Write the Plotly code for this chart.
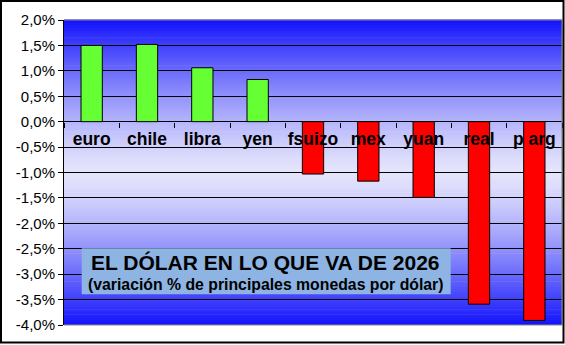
import plotly.graph_objects as go

categories = ["euro", "chile", "libra", "yen", "fsuizo", "mex", "yuan", "real", "p arg"]
values = [1.50, 1.52, 1.06, 0.83, -1.03, -1.17, -1.49, -3.59, -3.91]
bar_colors = ["#66FF33" if v >= 0 else "#FF0000" for v in values]
tick_vals = [2.0, 1.5, 1.0, 0.5, 0.0, -0.5, -1.0, -1.5, -2.0, -2.5, -3.0, -3.5, -4.0]
tick_text = [f"{v:.1f}%".replace(".", ",") for v in tick_vals]
title_line1 = "EL DÓLAR EN LO QUE VA DE 2026"
title_line2 = "(variación % de principales monedas por dólar)"

W, H = 565, 345
L, R, T, B = 64, 3, 20, 20
PW, PH = W - L - R, H - T - B
FONT = "Liberation Sans, Arial, sans-serif"


def px(x):
    return (x - L) / PW


def py(y):
    return (H - B - y) / PH


fig = go.Figure()
fig.add_trace(go.Bar(
    x=categories, y=values,
    marker=dict(color=bar_colors, line=dict(color="black", width=1)),
    hoverinfo="skip",
))

shapes = []
# vertical gradient background: blue at edges, light lavender at centre
N = 120
blue = (18, 18, 252)
light = (228, 228, 252)
for i in range(N):
    y0 = i / N
    y1 = (i + 1) / N
    c = (y0 + y1) / 2
    t = abs(c - 0.5) / 0.5
    t = t ** 1.35
    col = tuple(int(round(light[k] * (1 - t) + blue[k] * t)) for k in range(3))
    shapes.append(dict(type="rect", xref="paper", yref="paper", x0=0, x1=1,
                       y0=y0, y1=y1 + 0.002, layer="below", line=dict(width=0),
                       fillcolor=f"rgb{col}"))
# plot frame (gray) top, right, bottom
for (x0, y0, x1, y1) in [(0, 1, 1, 1), (1, 0, 1, 1), (0, 0, 1, 0)]:
    shapes.append(dict(type="line", xref="paper", yref="paper", x0=x0, y0=y0,
                       x1=x1, y1=y1, layer="above", line=dict(color="#8a8a8a", width=1)))
# outer chart border
shapes.append(dict(type="rect", xref="paper", yref="paper",
                   x0=px(1), x1=px(563.5), y0=py(342.5), y1=py(1),
                   line=dict(color="black", width=2), layer="above"))
# title box
shapes.append(dict(type="rect", xref="paper", yref="paper",
                   x0=px(81.7), x1=px(450.7), y0=py(294.3), y1=py(248.3),
                   fillcolor="#8EB4E3", line=dict(width=0), layer="above"))

annotations = [
    dict(text=f"<b>{title_line1}</b>", xref="paper", yref="paper",
         x=px(265), y=py(262), xanchor="center", yanchor="middle", showarrow=False,
         font=dict(family=FONT, size=21, color="black")),
    dict(text=f"<b>{title_line2}</b>", xref="paper", yref="paper",
         x=px(266), y=py(284.5), xanchor="center", yanchor="middle", showarrow=False,
         font=dict(family=FONT, size=15.8, color="black")),
]

fig.update_layout(
    width=W, height=H,
    margin=dict(l=L, r=R, t=T, b=B),
    paper_bgcolor="white", plot_bgcolor="rgba(0,0,0,0)",
    bargap=0.615, showlegend=False,
    shapes=shapes, annotations=annotations,
    font=dict(family=FONT, color="black"),
    separators=",.",
)
fig.update_yaxes(
    range=[-4, 2], tickvals=tick_vals, ticktext=tick_text,
    showgrid=True, gridcolor="black", gridwidth=1,
    zeroline=True, zerolinecolor="black", zerolinewidth=1,
    showline=True, linecolor="black", linewidth=1,
    ticks="outside", ticklen=5, tickcolor="black",
    tickfont=dict(family=FONT, size=15, color="black"),
    fixedrange=True,
)
fig.update_xaxes(
    type="category", anchor="free", position=4 / 6,
    showline=False, showgrid=False,
    ticks="outside", ticklen=5, tickcolor="black", tickson="boundaries",
    tickfont=dict(family=FONT, size=17.5, color="black"),
    tickvals=categories, ticktext=[f"<b>{c}</b>" for c in categories],
    tickangle=0, ticklabelstandoff=5,
    fixedrange=True,
)

fig.write_html("out.html")
